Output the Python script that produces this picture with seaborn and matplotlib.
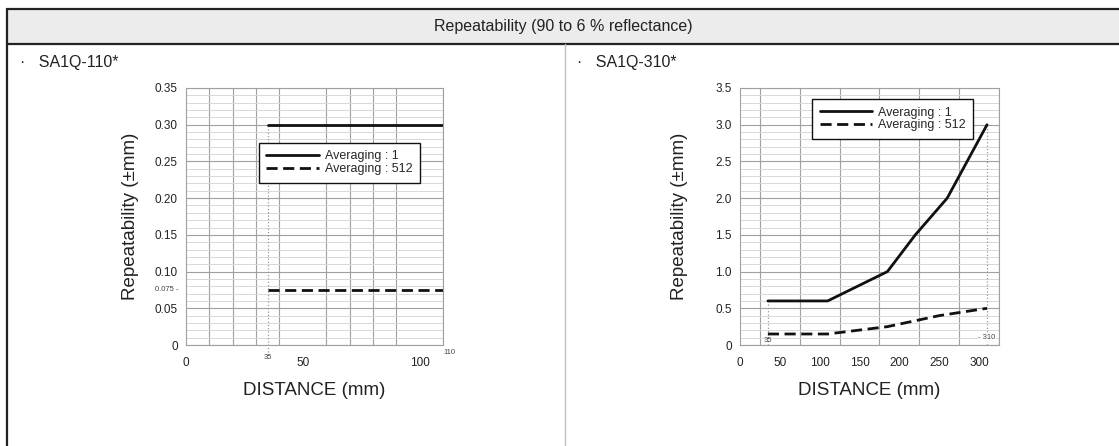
import numpy as np
import pandas as pd
import seaborn as sns
import matplotlib.pyplot as plt
from matplotlib.lines import Line2D
from matplotlib.patches import Rectangle
from matplotlib.ticker import MultipleLocator

# Dados
modes = ['Averaging : 1', 'Averaging : 512']

dist_110 = [35, 110]
avg1_110 = [0.30, 0.30]
avg512_110 = [0.075, 0.075]

dist_310 = [35, 110, 185, 220, 260, 310]
avg1_310 = [0.6, 0.6, 1.0, 1.5, 2.0, 3.0]
dist_310_b = [35, 110, 185, 250, 310]
avg512_310 = [0.15, 0.15, 0.25, 0.4, 0.5]

title = 'Repeatability (90 to 6 % reflectance)'
models = ['SA1Q-110*', 'SA1Q-310*']


def long_df(x1, y1, x2, y2):
    a = pd.DataFrame({'distance': x1, 'rep': y1, 'mode': modes[0]})
    b = pd.DataFrame({'distance': x2, 'rep': y2, 'mode': modes[1]})
    return pd.concat([a, b], ignore_index=True)


df110 = long_df(dist_110, avg1_110, dist_110, avg512_110)
df310 = long_df(dist_310, avg1_310, dist_310_b, avg512_310)

sns.set_style('white')
plt.rcParams['font.family'] = ['Liberation Sans', 'DejaVu Sans']

W, H = 1119, 446
fig = plt.figure(figsize=(W / 100, H / 100), dpi=100)


def fx(x):
    return x / W


def fy(y):
    return 1 - y / H


# Moldura da tabela
fig.add_artist(Rectangle((fx(7), fy(44)), 1 - fx(7), fy(9) - fy(44),
                         facecolor='#ececec', edgecolor='none', transform=fig.transFigure))
for y in (9, 44):
    fig.add_artist(Line2D([fx(7), 1], [fy(y), fy(y)], color='#222222', lw=1.6))
fig.add_artist(Line2D([fx(7), fx(7)], [0, fy(9)], color='#222222', lw=1.6))
fig.add_artist(Line2D([fx(565), fx(565)], [0, fy(44)], color='#c0c0c0', lw=1.0))

fig.text(fx(563), fy(27), title, ha='center', va='center', fontsize=11.5, color='#222222')
fig.text(fx(20), fy(62), '·   ' + models[0], ha='left', va='center', fontsize=11.5, color='#222222')
fig.text(fx(577), fy(62), '·   ' + models[1], ha='left', va='center', fontsize=11.5, color='#222222')

dash_map = {modes[0]: '', modes[1]: (4, 2)}


def setup(ax, xmax, xstep, ymax, ymaj, ymin, ylab_x):
    ax.set_xlim(0, xmax)
    ax.set_ylim(0, ymax)
    ax.xaxis.set_minor_locator(MultipleLocator(xstep))
    ax.yaxis.set_major_locator(MultipleLocator(ymaj))
    ax.yaxis.set_minor_locator(MultipleLocator(ymin))
    ax.grid(True, which='minor', axis='x', color='#a0a0a0', lw=0.8)
    ax.grid(True, which='major', axis='y', color='#a0a0a0', lw=0.8)
    ax.grid(True, which='minor', axis='y', color='#d8d8d8', lw=0.7)
    ax.set_axisbelow(True)
    for s in ax.spines.values():
        s.set_color('#a0a0a0')
        s.set_linewidth(0.8)
    ax.tick_params(axis='both', which='both', length=0, labelsize=8.5, colors='#222222')
    ax.tick_params(axis='x', pad=8.5)
    ax.tick_params(axis='y', pad=6)
    ax.set_xlabel('DISTANCE (mm)', fontsize=13.5, color='#222222')
    ax.set_ylabel('Repeatability (±mm)', fontsize=13.5, color='#222222')
    ax.xaxis.set_label_coords(0.5, -0.145)
    ax.yaxis.set_label_coords(ylab_x, 0.5)
    ax.xaxis.label.set_va('top')


def draw(ax, df, loc):
    sns.lineplot(data=df, x='distance', y='rep', style='mode', color='#111111',
                 dashes=dash_map, lw=2.0, ax=ax, legend=True)
    h, l = ax.get_legend_handles_labels()
    keep = [(a, b) for a, b in zip(h, l) if b in modes]
    leg = ax.legend([k[0] for k in keep], [k[1] for k in keep], loc='upper left',
                    bbox_to_anchor=loc, fontsize=9, handlelength=4.2, labelspacing=0.05,
                    borderpad=0.6, handletextpad=0.5, borderaxespad=0, fancybox=False,
                    framealpha=1, edgecolor='#111111')
    leg.get_frame().set_linewidth(1.0)


# Gráfico SA1Q-110
ax1 = fig.add_axes([fx(186), fy(345), fx(257), 257 / H])
setup(ax1, 110, 10, 0.35, 0.05, 0.01, -0.183)
draw(ax1, df110, (0.284, 0.786))
ax1.set_xticks([0, 50, 100])
ax1.set_xticklabels(['0', '50', '100'])
ax1.set_yticks(np.arange(0, 0.351, 0.05))
ax1.set_yticklabels(['0'] + [f'{v:.2f}' for v in np.arange(0.05, 0.351, 0.05)])
ax1.plot([35, 35], [-0.01, avg1_110[0]], color='#999999', lw=0.9, ls=':', clip_on=False, zorder=1)
ax1.text(35, -0.012, '35', ha='center', va='top', fontsize=5.5, color='#444444')
ax1.annotate('110', (110, 0), xytext=(5, -3), textcoords='offset points',
             ha='center', va='top', fontsize=5.5, color='#444444')
ax1.text(-0.03, avg512_110[0], '0.075 -', ha='right', va='center', fontsize=5.5,
         color='#444444', transform=ax1.get_yaxis_transform())

# Gráfico SA1Q-310
ax2 = fig.add_axes([fx(740), fy(345), fx(259), 257 / H])
setup(ax2, 325, 25, 3.5, 0.5, 0.1, -0.2)
draw(ax2, df310, (0.278, 0.957))
ax2.set_xticks(np.arange(0, 301, 50))
ax2.set_yticks(np.arange(0, 3.51, 0.5))
ax2.set_yticklabels(['0'] + [f'{v:.1f}' for v in np.arange(0.5, 3.51, 0.5)])
ax2.plot([35, 35], [0, avg1_310[0]], color='#999999', lw=0.9, ls=':', zorder=1)
ax2.plot([310, 310], [0, avg1_310[-1]], color='#999999', lw=0.9, ls=':', zorder=1)
ax2.text(35, 0.01, '35', ha='center', va='bottom', fontsize=5.5, color='#444444')
ax2.text(310, 0.05, '- 310', ha='center', va='bottom', fontsize=5.5, color='#444444',
         bbox=dict(facecolor='white', edgecolor='none', pad=0.5))

fig.savefig('out.png', dpi=100)
